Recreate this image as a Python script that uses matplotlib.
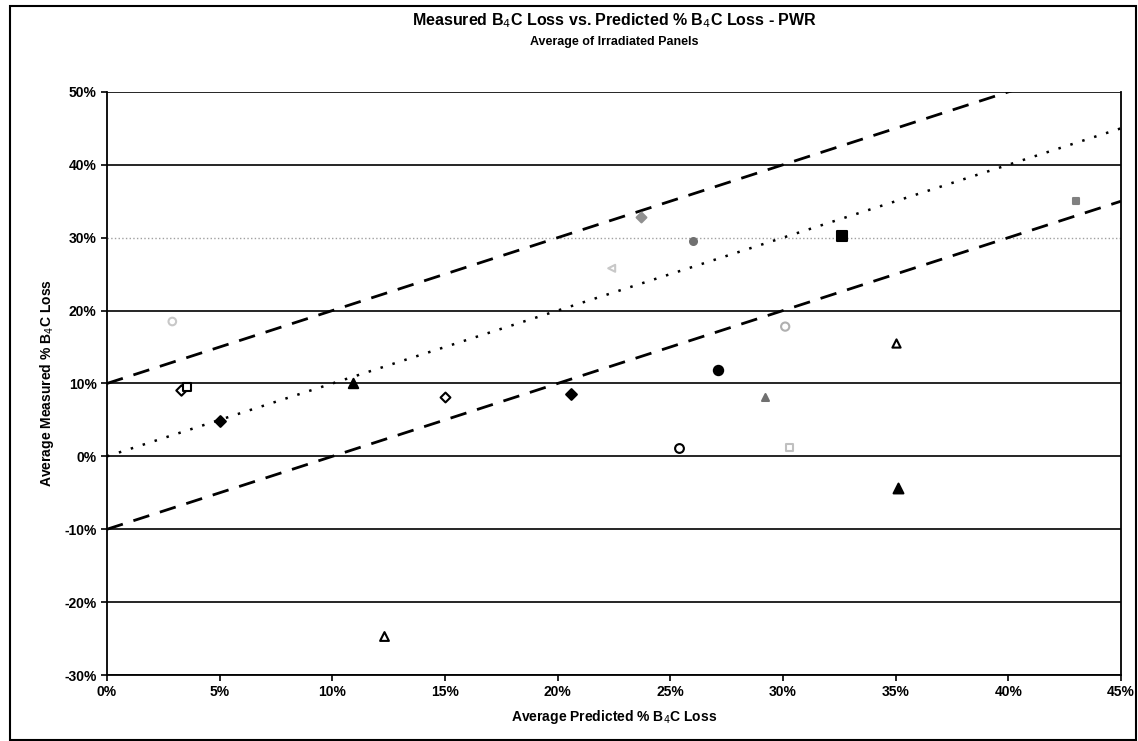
import numpy as np
import matplotlib.pyplot as plt
from matplotlib.patches import Rectangle

plt.rcParams['font.family'] = ['Liberation Sans', 'DejaVu Sans']

# --- data (percent)
pred = [2.9, 3.3, 3.55, 5.0, 10.9, 15.0, 20.6, 22.4, 23.7, 26.0,
        25.4, 27.1, 29.2, 30.1, 30.3, 32.6, 35.0, 35.1, 12.3, 43.0]
meas = [18.5, 9.1, 9.5, 4.9, 10.0, 8.2, 8.6, 25.8, 32.8, 29.6,
        1.1, 11.8, 8.1, 17.8, 1.2, 30.2, 15.5, -4.4, -24.7, 35.0]

# reference lines: measured = predicted + offset
line_x = [0, 45]
offsets = [10, 0, -10]

# --- marker styles for each point
styles = [
    dict(marker='o', fc='none', ec='#c8c8c8', s=30),
    dict(marker='D', fc='white', ec='k', s=28),
    dict(marker='s', fc='white', ec='k', s=30),
    dict(marker='D', fc='k', ec='k', s=30),
    dict(marker='^', fc='k', ec='k', s=45),
    dict(marker='D', fc='white', ec='k', s=25),
    dict(marker='D', fc='k', ec='k', s=30),
    dict(marker='<', fc='none', ec='#c8c8c8', s=25),
    dict(marker='D', fc='#909090', ec='#909090', s=25),
    dict(marker='o', fc='#707070', ec='#707070', s=25),
    dict(marker='o', fc='white', ec='k', s=40),
    dict(marker='o', fc='k', ec='k', s=45),
    dict(marker='^', fc='#707070', ec='#707070', s=25),
    dict(marker='o', fc='none', ec='#b0b0b0', s=35),
    dict(marker='s', fc='none', ec='#c0c0c0', s=25),
    dict(marker='s', fc='k', ec='k', s=45),
    dict(marker='^', fc='white', ec='k', s=35),
    dict(marker='^', fc='k', ec='k', s=50),
    dict(marker='^', fc='white', ec='k', s=40),
    dict(marker='s', fc='#808080', ec='#808080', s=25),
]

fig = plt.figure(figsize=(11.38, 7.41), dpi=100)
ax = fig.add_axes([0.094, 0.089, 0.891, 0.787])

# horizontal gridlines
for yv in range(-30, 51, 10):
    if yv == 30:
        ax.axhline(yv, color='#a0a0a0', lw=1, ls=':', zorder=1)
    else:
        ax.axhline(yv, color='k', lw=1.2, zorder=1)

lx = np.array(line_x, dtype=float)
ax.plot(lx, lx + offsets[0], color='k', lw=2, ls=(0, (6, 4)), zorder=2)
ax.plot(lx, lx + offsets[1], color='k', lw=1.8, ls=(0, (1, 4)), zorder=2)
ax.plot(lx, lx + offsets[2], color='k', lw=2, ls=(0, (6, 4)), zorder=2)

for px, my, st in zip(pred, meas, styles):
    ax.scatter(px, my, marker=st['marker'], s=st['s'], facecolors=st['fc'],
               edgecolors=st['ec'], linewidths=1.5, zorder=3)

ax.set_xlim(0, 45)
ax.set_ylim(-30, 50)
ax.set_xticks(range(0, 46, 5))
ax.set_yticks(range(-30, 51, 10))
ax.set_xticklabels(['%d%%' % v for v in range(0, 46, 5)])
ax.set_yticklabels(['%d%%' % v for v in range(-30, 51, 10)])
ax.tick_params(axis='both', labelsize=10, direction='out', length=4,
               width=1.2, colors='k')
for lab in ax.get_xticklabels() + ax.get_yticklabels():
    lab.set_fontweight('bold')
for sp in ax.spines.values():
    sp.set_linewidth(1.3)
ax.spines['top'].set_visible(False)

ax.set_xlabel('Average Predicted % B$_4$C Loss', fontsize=10,
              fontweight='bold', labelpad=6)
ax.set_ylabel('Average Measured % B$_4$C Loss', fontsize=10,
              fontweight='bold', labelpad=6)

fig.text(0.54, 0.972, 'Measured B$_4$C Loss vs. Predicted % B$_4$C Loss - PWR',
         ha='center', va='center', fontsize=11.5, fontweight='bold')
fig.text(0.54, 0.943, 'Average of Irradiated Panels', ha='center',
         va='center', fontsize=9, fontweight='bold')

# outer chart frame
fig.patches.append(Rectangle((0.009, 0.002), 0.989, 0.99, transform=fig.transFigure,
                             fill=False, ec='k', lw=1.5))

fig.savefig('out.png', dpi=100)
